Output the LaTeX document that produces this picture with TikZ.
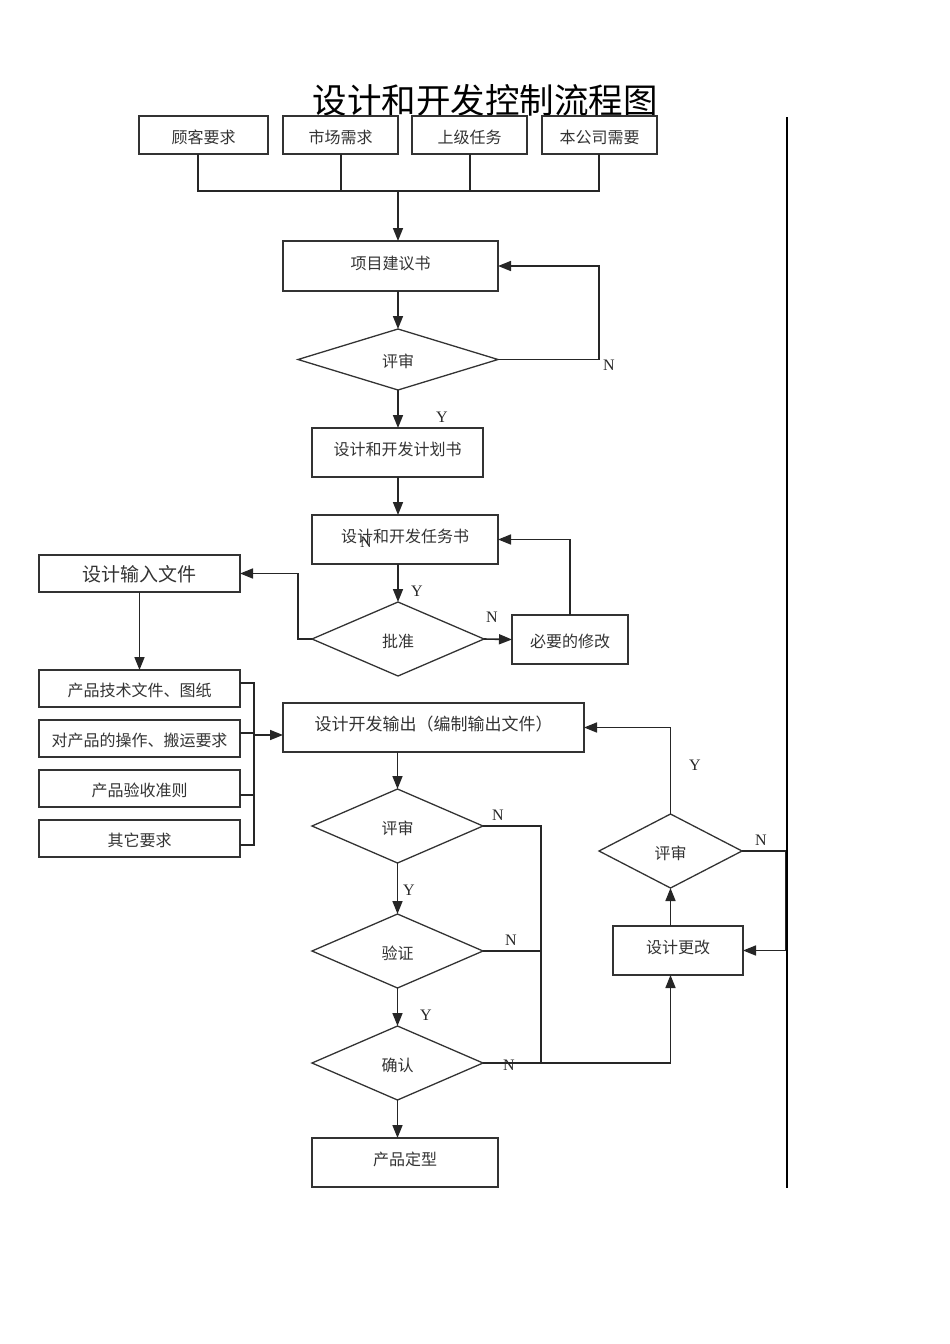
\documentclass[tikz,border=0pt]{standalone}
\usepackage{fontspec}
\newfontfamily\cjk{Noto Sans CJK SC}
\newfontfamily\serif{Liberation Serif}
\usetikzlibrary{shapes.geometric,arrows.meta}
\tikzset{
  ln/.style={line width=1.6pt, draw=black!85},
  arr/.style={ln, -{Triangle[length=13pt,width=10pt]}},
  box/.style={draw=black!80, line width=1.3pt, rectangle, inner sep=0pt, outer sep=0pt,
    font=\cjk\fontsize{16}{18}\selectfont, text=black!80, text height=19.8pt, text depth=3.2pt},
  tall/.style={text depth=13.2pt},
  dia/.style={draw=black!80, line width=1.3pt, diamond, inner sep=0pt, outer sep=0pt,
    font=\cjk\fontsize{16}{18}\selectfont, text=black!80, text height=19.8pt, text depth=3.2pt},
  yn/.style={font=\serif\fontsize{16}{18}\selectfont, text=black!85, inner sep=0pt}
}
\begin{document}
\begin{tikzpicture}[x=1pt,y=-1pt]
\useasboundingbox (0,0) rectangle (950,1344);
\node[font=\cjk\fontsize{34.5}{40}\selectfont, inner sep=0pt, text height=29pt, text depth=5pt] (title) at (485,101) {设计和开发控制流程图};

% top boxes
\node[box, minimum width=129pt, minimum height=38pt] (b1) at (203.5,135) {顾客要求};
\node[box, minimum width=115pt, minimum height=38pt] (b2) at (340.5,135) {市场需求};
\node[box, minimum width=115pt, minimum height=38pt] (b3) at (469.5,135) {上级任务};
\node[box, minimum width=115pt, minimum height=38pt] (b4) at (599.5,135) {本公司需要};

\coordinate (hl) at (198,191);
\coordinate (hr) at (599,191);
\coordinate (tj) at (398,191);
\draw[ln] ([xshift=-5.5pt]b1.south) -- (hl) -- (hr) -- (hr |- b4.south);
\draw[ln] ([xshift=0.5pt]b2.south) -- ([xshift=0.5pt]b2.south |- hl);
\draw[ln] ([xshift=0.5pt]b3.south) -- ([xshift=0.5pt]b3.south |- hl);

\node[box, tall, minimum width=215pt, minimum height=50pt] (p1) at (390.5,266) {项目建议书};
\draw[arr] (tj) -- (tj |- p1.north);

\node[dia, minimum width=200pt, minimum height=61pt] (r1) at (398,359.5) {评审};
\draw[arr] (r1.north |- p1.south) -- (r1.north);
\draw[arr] (r1.east) -- (599,359.5) |- (p1.east);
\node[yn] (n1) at (609,365) {N};

\node[box, tall, minimum width=171pt, minimum height=49pt] (p2) at (397.5,452.5) {设计和开发计划书};
\draw[arr] (r1.south) -- (r1.south |- p2.north);
\node[yn] (y1) at (442,417) {Y};

\node[box, tall, minimum width=186pt, minimum height=49pt] (p3) at (405,539.5) {设计和开发任务书};
\draw[arr] (r1.south |- p2.south) -- (r1.south |- p3.north);
\node[yn] (n2) at (366,542) {N};

\node[dia, minimum width=172pt, minimum height=74pt] (ap) at (398,639) {批准};
\draw[arr] (ap.north |- p3.south) -- (ap.north);
\node[yn] (y2) at (417,591) {Y};

\node[box, minimum width=116pt, minimum height=49pt] (m) at (570,639.5) {必要的修改};
\draw[arr] (ap.east) -- (m.west);
\node[yn] (n3) at (492,617) {N};
\draw[arr] (m.north) |- (p3.east);

\node[box, minimum width=201pt, minimum height=37pt, font=\cjk\fontsize{19}{22}\selectfont, text height=19.2pt, text depth=3.8pt] (in) at (139.5,573.5) {设计输入文件};
\coordinate (ak) at (298,639);
\draw[arr] (ap.west) -- (ak) |- (in.east);

\node[box, minimum width=201pt, minimum height=37pt] (l1) at (139.5,688.5) {产品技术文件、图纸};
\node[box, minimum width=201pt, minimum height=37pt] (l2) at (139.5,738.5) {对产品的操作、搬运要求};
\node[box, minimum width=201pt, minimum height=37pt] (l3) at (139.5,788.5) {产品验收准则};
\node[box, minimum width=201pt, minimum height=37pt] (l4) at (139.5,838.5) {其它要求};
\draw[arr] (in.south) -- (l1.north);

\node[box, tall, minimum width=301pt, minimum height=49pt, font=\cjk\fontsize{17}{20}\selectfont] (out) at (433.5,727.5) {设计开发输出（编制输出文件）};
\coordinate (k1) at (254,683);
\coordinate (k4) at (254,845);
\coordinate (kj) at (254,735);
\draw[ln] ([yshift=5.5pt]l1.east) -- (k1) -- (k4) -- ([yshift=-6.5pt]l4.east);
\draw[ln] ([yshift=5.5pt]l2.east) -- ([yshift=5.5pt]l2.east -| k1);
\draw[ln] ([yshift=-6.5pt]l3.east) -- ([yshift=-6.5pt]l3.east -| k1);
\draw[arr] (kj) -- (kj -| out.west);

\node[dia, minimum width=171pt, minimum height=74pt] (r2) at (397.5,826) {评审};
\draw[arr] (r2.north |- out.south) -- (r2.north);
\node[yn] (n4) at (498,815) {N};

\node[dia, minimum width=171pt, minimum height=74pt] (v) at (397.5,951) {验证};
\draw[arr] (r2.south) -- (v.north);
\node[yn] (y3) at (409,890) {Y};

\node[dia, minimum width=171pt, minimum height=74pt] (c) at (397.5,1063) {确认};
\draw[arr] (v.south) -- (c.north);
\node[yn] (y4) at (426,1015) {Y};

\node[box, tall, minimum width=186pt, minimum height=49pt] (f) at (405,1162.5) {产品定型};
\draw[arr] (c.south) -- (c.south |- f.north);

\coordinate (jn) at (541,1063);
\draw[ln] (r2.east) -| (jn);
\draw[ln] (v.east) -- (v.east -| jn);
\node[yn] (n5) at (511,940) {N};

\node[box, tall, minimum width=130pt, minimum height=49pt] (g) at (678,950.5) {设计更改};
\draw[arr] (c.east) -| ([xshift=-7.5pt]g.south);
\node[yn] (n6) at (509,1065) {N};

\node[dia, minimum width=143pt, minimum height=74pt] (r3) at (670.5,851) {评审};
\draw[arr] ([xshift=-7.5pt]g.north) -- (r3.south);
\draw[arr] (r3.north) |- (out.east);
\node[yn] (y5) at (695,765) {Y};
\draw[arr] (r3.east) -- (786,851) |- (g.east);
\node[yn] (n7) at (761,840) {N};

\draw[line width=1.5pt, black] (787,117) -- (787,1188);
\end{tikzpicture}
\end{document}
